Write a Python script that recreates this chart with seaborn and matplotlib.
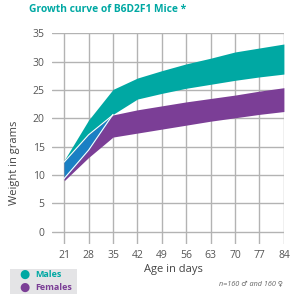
import numpy as np
import pandas as pd
import matplotlib.pyplot as plt
import seaborn as sns

# data (weight in grams per age in days)
age = [21, 28, 35, 42, 49, 56, 63, 70, 77, 84]
males_upper = [12.6, 19.7, 25.1, 27.1, 28.4, 29.6, 30.6, 31.7, 32.4, 33.1]
males_lower = [9.4, 14.4, 20.7, 23.4, 24.4, 25.3, 26.0, 26.7, 27.3, 27.8]
females_upper = [12.3, 17.1, 20.6, 21.5, 22.2, 22.9, 23.5, 24.1, 24.8, 25.4]
females_lower = [9.0, 13.1, 16.7, 17.4, 18.1, 18.8, 19.5, 20.1, 20.7, 21.2]
yticks = [0, 5, 10, 15, 20, 25, 30, 35]

TEAL = "#00a8a3"
PURPLE = "#7b3e96"
BLUE = "#1a80c4"

sns.set_theme(style="whitegrid", rc={
    "grid.color": "#b3b3b3",
    "grid.linewidth": 1.0,
    "axes.edgecolor": "white",
})
plt.rcParams["font.family"] = ["Open Sans", "DejaVu Sans"]

df = pd.DataFrame({
    "age": age,
    "m_hi": males_upper, "m_lo": males_lower,
    "f_hi": females_upper, "f_lo": females_lower,
})
ov_lo = np.maximum(df["m_lo"], df["f_lo"])
ov_hi = np.minimum(df["m_hi"], df["f_hi"])

fig = plt.figure(figsize=(2.9, 2.94), dpi=100)
ax = fig.add_axes([0.178, 0.169, 0.801, 0.718])

ax.fill_between(df["age"], df["m_lo"], df["m_hi"], color=TEAL, lw=0, zorder=3)
ax.fill_between(df["age"], df["f_lo"], df["f_hi"], color=PURPLE, lw=0, zorder=3)
ax.fill_between(df["age"], ov_lo, ov_hi, where=ov_hi >= ov_lo, interpolate=True,
                color=BLUE, lw=0, zorder=4)
# thin white separators inside the overlap
mask = df["age"] <= 35
for col in ["f_hi", "m_lo"]:
    sns.lineplot(x=df.loc[mask, "age"], y=df.loc[mask, col], ax=ax,
                 color="white", lw=0.8, zorder=5)

ax.set_xlim(17.4, 84)
ax.set_ylim(-2.2, 35)
ax.set_xticks(age)
ax.set_yticks(yticks)
ax.tick_params(axis="both", length=0, labelsize=7.5, labelcolor="#555555")
ax.tick_params(axis="y", pad=5)
ax.tick_params(axis="x", pad=4)
ax.set_xlabel("")
ax.set_ylabel("")
for s in ax.spines.values():
    s.set_visible(False)

fig.text(0.05, 0.445, "Weight in grams", rotation=90, ha="center", va="center",
         fontsize=8, color="#444444")
fig.text(0.597, 0.082, "Age in days", ha="center", va="center",
         fontsize=8, color="#444444")
fig.text(0.1, 0.966, "Growth curve of B6D2F1 Mice *", ha="left", va="center",
         fontsize=7.4, fontweight="bold", color=TEAL)

# legend box
fig.patches.append(plt.Rectangle((0.034, 0.0), 0.232, 0.085, transform=fig.transFigure,
                                 facecolor="#e4e4e6", edgecolor="none"))
fig.text(0.083, 0.067, "\u25CF", ha="center", va="center", fontsize=8.5, color=TEAL)
fig.text(0.083, 0.021, "\u25CF", ha="center", va="center", fontsize=8.5, color=PURPLE)
fig.text(0.122, 0.066, "Males", ha="left", va="center", fontsize=6.5,
         fontweight="bold", color=TEAL)
fig.text(0.122, 0.021, "Females", ha="left", va="center", fontsize=6.5,
         fontweight="bold", color=PURPLE)

fig.text(0.976, 0.034, "n=160 \u2642 and 160 \u2640", ha="right", va="center",
         fontsize=5.2, style="italic", color="#666666")

fig.savefig("out.png", dpi=100)
